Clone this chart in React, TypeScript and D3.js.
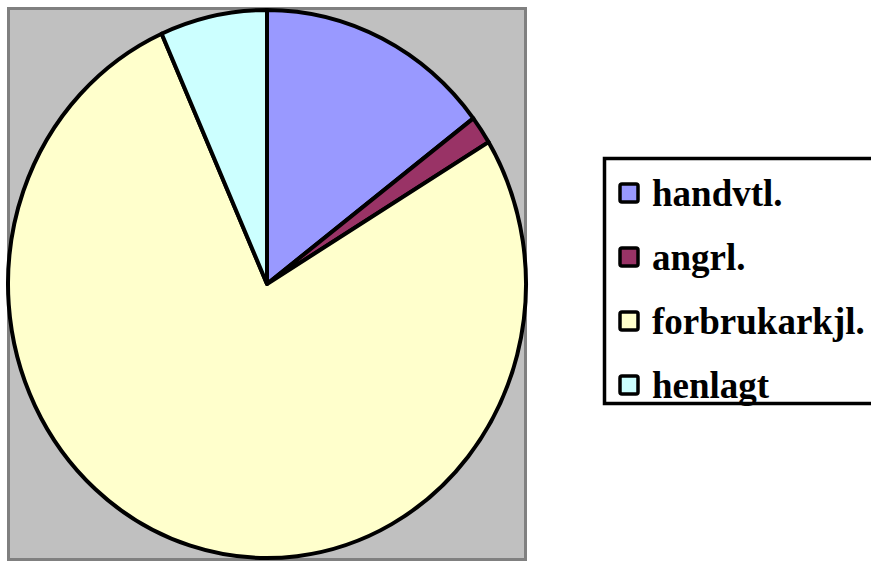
import * as React from "react"
import * as d3 from "d3"

const categories = ["handvtl.", "angrl.", "forbrukarkjl.", "henlagt"]
const values = [44, 5, 231, 20]
const colors = ["#9999FF", "#993366", "#FFFFCC", "#CCFFFF"]

export default function App() {
    const width = 871
    const height = 561

    const cx = 267
    const cy = 284
    const rx = 259
    const ry = 274

    const pie = d3.pie<number>().sort(null).value(d => d)
    const arcs = pie(values)

    // elliptical slice path (the pie is stretched vertically)
    const pt = (a: number) => [cx + rx * Math.sin(a), cy - ry * Math.cos(a)]
    const slice = (a: d3.PieArcDatum<number>) => {
        const [x0, y0] = pt(a.startAngle)
        const [x1, y1] = pt(a.endAngle)
        const large = a.endAngle - a.startAngle > Math.PI ? 1 : 0
        return `M${cx},${cy}L${x0},${y0}A${rx},${ry} 0 ${large} 1 ${x1},${y1}Z`
    }

    // legend rows
    const rowY = d3.scalePoint<string>()
        .domain(categories)
        .range([194, 386])

    return (
        <svg
            width={width}
            height={height}
            style={{ position: "absolute", left: 0, top: 0, display: "block" }}
        >
            <rect x={0} y={0} width={width} height={height} fill="#fff" />
            {/* plot area */}
            <rect x={8.5} y={8.5} width={517} height={551} fill="#C0C0C0" stroke="#808080" strokeWidth={3} />

            {arcs.map((a, i) => (
                <path
                    key={categories[i]}
                    d={slice(a)}
                    fill={colors[i]}
                    stroke="#000"
                    strokeWidth={4}
                    strokeLinejoin="round"
                />
            ))}

            {/* legend */}
            <rect x={604.5} y={158.5} width={280} height={245} fill="#fff" stroke="#000" strokeWidth={3.5} />
            {categories.map((c, i) => {
                const y = rowY(c) ?? 0
                return (
                    <g key={c}>
                        <rect x={620} y={y - 10} width={18} height={18} fill={colors[i]} stroke="#000" strokeWidth={3.5} rx={2} />
                        <text
                            x={652}
                            y={y + 12}
                            fontFamily="'Liberation Serif', 'Times New Roman', serif"
                            fontWeight="bold"
                            fontSize={37}
                            fill="#000"
                        >
                            {c}
                        </text>
                    </g>
                )
            })}
        </svg>
    )
}
